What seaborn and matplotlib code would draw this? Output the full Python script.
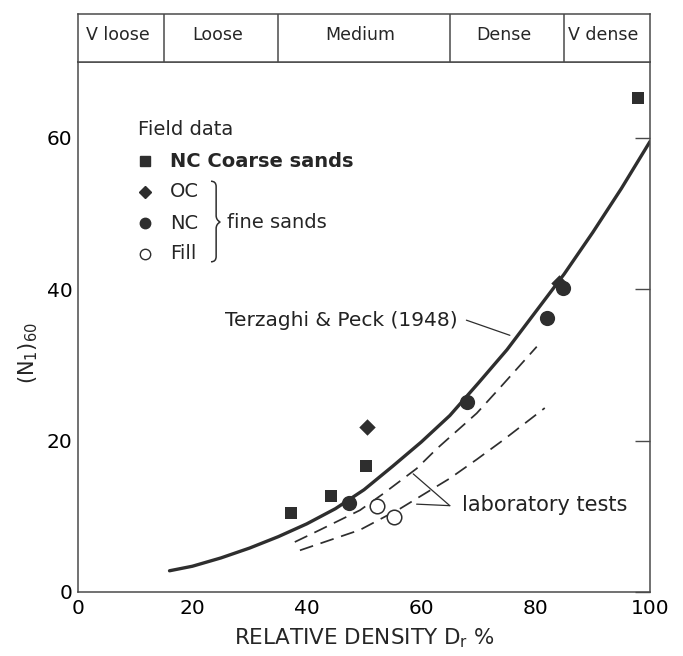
import matplotlib
matplotlib.use("Agg")
import numpy as np
import pandas as pd
import matplotlib.pyplot as plt
import seaborn as sns
from matplotlib.path import Path
from matplotlib.patches import PathPatch

# ---------------- data ----------------
coarse_dr = [37.2, 44.2, 50.3, 97.9]
coarse_n = [10.4, 12.7, 16.7, 65.2]
oc_dr = [50.6, 84.1]
oc_n = [21.8, 40.8]
nc_dr = [47.3, 68.0, 82.0, 84.8]
nc_n = [11.8, 25.1, 36.2, 40.2]
fill_dr = [52.3, 55.2]
fill_n = [11.4, 9.9]

tp_dr = [16, 20, 25, 30, 35, 40, 45, 50, 55, 60, 65, 70, 75, 80, 85, 90, 95, 100]
tp_n = [2.8, 3.4, 4.5, 5.8, 7.3, 9.0, 11.0, 13.5, 16.6, 19.8, 23.3, 27.6, 32.0,
        37.0, 42.0, 47.5, 53.3, 59.5]

lab_upper_dr = [37.9, 42.3, 49.3, 53.4, 59.2, 62.7, 69.7, 73.8, 80.2]
lab_upper_n = [6.6, 8.2, 10.8, 13.0, 16.3, 18.9, 23.6, 27.0, 32.4]
lab_lower_dr = [38.8, 49.3, 56.3, 65.0, 69.7, 74.4, 81.6]
lab_lower_n = [5.5, 8.2, 11.0, 15.0, 17.5, 20.1, 24.3]

band_edges = [0, 15, 35, 65, 85, 100]
band_labels = ["V loose", "Loose", "Medium", "Dense", "V dense"]

x_ticks = [0, 20, 40, 60, 80, 100]
y_ticks = [0, 20, 40, 60]

# ---------------- styling ----------------
sns.set_theme(style="white")
plt.rcParams["font.family"] = ["DejaVu Sans"]
INK = "#2e2e2e"
FRAME = "#4a4a4a"

fig = plt.figure(figsize=(6.83, 6.56), dpi=100)
ax = fig.add_axes([0.1142, 0.0976, 0.8375, 0.8079])
band = fig.add_axes([0.1142, 0.9055, 0.8375, 0.0732])

# ---------------- curves ----------------
tp_df = pd.DataFrame({"Dr": tp_dr, "N": tp_n})
sns.lineplot(data=tp_df, x="Dr", y="N", ax=ax, color=INK, lw=2.4,
             sort=False, estimator=None)
up_df = pd.DataFrame({"Dr": lab_upper_dr, "N": lab_upper_n})
lo_df = pd.DataFrame({"Dr": lab_lower_dr, "N": lab_lower_n})
for d in (up_df, lo_df):
    sns.lineplot(data=d, x="Dr", y="N", ax=ax, color=INK, lw=1.25,
                 sort=False, estimator=None, dashes=False, linestyle=(0, (8, 4.5)))

# ---------------- points ----------------
sns.scatterplot(x=coarse_dr, y=coarse_n, ax=ax, marker="s", s=85,
                color=INK, edgecolor=INK, linewidth=0, zorder=5)
sns.scatterplot(x=oc_dr, y=oc_n, ax=ax, marker="D", s=70,
                color=INK, edgecolor=INK, linewidth=0, zorder=4)
sns.scatterplot(x=nc_dr, y=nc_n, ax=ax, marker="o", s=120,
                color=INK, edgecolor=INK, linewidth=0, zorder=5)
sns.scatterplot(x=fill_dr, y=fill_n, ax=ax, marker="o", s=110,
                facecolor="white", edgecolor=INK, linewidth=1.1, zorder=5)

# ---------------- axes ----------------
ax.set_xlim(0, 100)
ax.set_ylim(0, 70)
ax.set_xticks(x_ticks)
ax.set_yticks(y_ticks)
ax.tick_params(axis="x", direction="in", length=14, width=1, color=FRAME,
               labelsize=14.5, pad=5, labelcolor="black")
ax.tick_params(axis="y", direction="in", length=11, width=1, color=FRAME,
               labelsize=14.5, pad=4, right=True, labelcolor="black")
for s in ax.spines.values():
    s.set_color(FRAME)
    s.set_linewidth(1.1)
ax.set_xlabel(r"RELATIVE DENSITY $\mathregular{D_r}$ %", fontsize=15.5, labelpad=6)
ax.set_ylabel(r"$\mathregular{(N_1)_{60}}$", fontsize=15)
ax.yaxis.set_label_coords(-0.066, 0.45)

# ---------------- annotations ----------------
ax.text(66.3, 35.9, "Terzaghi & Peck (1948)", ha="right", va="center",
        fontsize=14.5, color="#222222")
ax.plot([67.9, 75.5], [35.9, 33.9], color=INK, lw=0.9)
ax.text(67.1, 11.5, "laboratory tests", ha="left", va="center",
        fontsize=15, color="#222222")
ax.plot([65.0, 58.6], [11.4, 15.6], color=INK, lw=0.9)
ax.plot([65.0, 59.2], [11.4, 11.6], color=INK, lw=0.9)

# ---------------- legend (manual) ----------------
T = ax.transAxes
ax.text(0.105, 0.872, "Field data", transform=T, fontsize=14,
        va="center", ha="left")
rows_y = [0.813, 0.755, 0.696, 0.638]
mk = [("s", INK, 7), ("D", INK, 6.5), ("o", INK, 7.5), ("o", "white", 7.5)]
labels = ["NC Coarse sands", "OC", "NC", "Fill"]
for yy, (m, fc, ms), lab in zip(rows_y, mk, labels):
    ax.plot([0.117], [yy], marker=m, ms=ms, mfc=fc, mec=INK, mew=1.0,
            transform=T, clip_on=False, linestyle="none")
    ax.text(0.161, yy, lab, transform=T, fontsize=14, va="center", ha="left",
            fontweight="bold" if lab == "NC Coarse sands" else "normal")
# brace
bx0, bx1, btip = 0.2325, 0.2415, 0.2485
yt, ym, yb = 0.775, 0.698, 0.623
verts = [(bx0, yt), (bx1, yt), (bx1, yt - 0.01),
         (bx1, ym + 0.012), (bx1, ym + 0.004), (btip, ym),
         (bx1, ym - 0.004), (bx1, ym - 0.012),
         (bx1, yb + 0.01), (bx1, yb), (bx0, yb)]
codes = [Path.MOVETO, Path.CURVE3, Path.CURVE3,
         Path.LINETO, Path.CURVE3, Path.CURVE3,
         Path.CURVE3, Path.CURVE3,
         Path.LINETO, Path.CURVE3, Path.CURVE3]
ax.add_patch(PathPatch(Path(verts, codes), transform=T, fill=False,
                       edgecolor=INK, lw=1.1, clip_on=False))
ax.text(0.261, 0.698, "fine sands", transform=T, fontsize=14,
        va="center", ha="left")

# ---------------- density classification band ----------------
band.set_xlim(0, 100)
band.set_ylim(0, 1)
band.set_xticks([])
band.set_yticks([])
for s in band.spines.values():
    s.set_color(FRAME)
    s.set_linewidth(1.1)
for e in band_edges[1:-1]:
    band.axvline(e, color=FRAME, lw=1.1)
for a, b, lab in zip(band_edges[:-1], band_edges[1:], band_labels):
    band.text((a + b) / 2 - 0.6, 0.57, lab, ha="center", va="center", fontsize=12.5)

fig.savefig("out.png", dpi=100)
